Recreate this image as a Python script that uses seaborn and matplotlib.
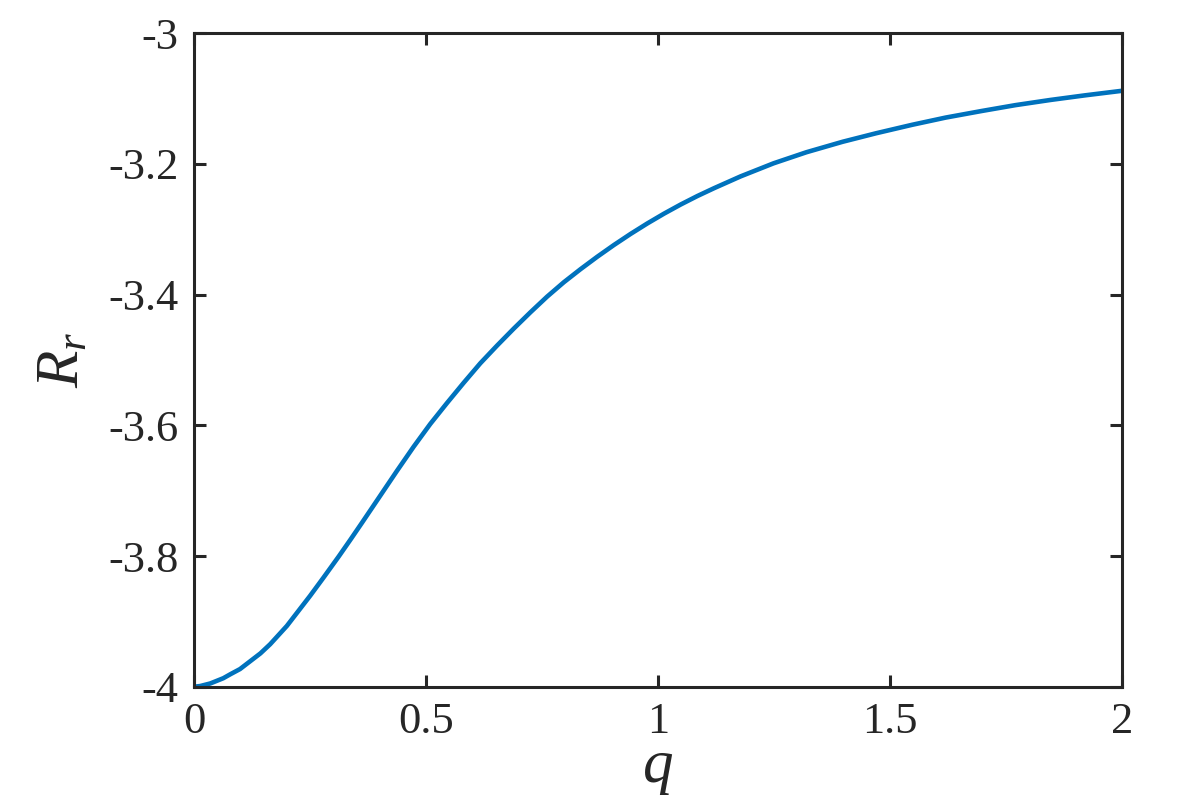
import matplotlib
matplotlib.use("Agg")
import matplotlib.pyplot as plt
import seaborn as sns
import pandas as pd

q_values = [0.0, 0.013, 0.035, 0.063, 0.078, 0.099, 0.121, 0.143, 0.164, 0.182,
            0.200, 0.225, 0.250, 0.279, 0.3115, 0.337, 0.362, 0.400, 0.437, 0.473,
            0.509, 0.545, 0.581, 0.617, 0.653, 0.689, 0.725, 0.761, 0.797, 0.833,
            0.869, 0.905, 0.941, 0.977, 1.013, 1.049, 1.085, 1.121, 1.178, 1.249,
            1.320, 1.398, 1.470, 1.548, 1.620, 1.697, 1.770, 1.846, 1.920, 2.000]
r_values = [-4.000, -3.999, -3.995, -3.987, -3.981, -3.973, -3.961, -3.949, -3.935, -3.921,
            -3.907, -3.884, -3.861, -3.833, -3.801, -3.775, -3.749, -3.709, -3.670, -3.633,
            -3.598, -3.566, -3.535, -3.505, -3.478, -3.452, -3.427, -3.403, -3.381, -3.361,
            -3.342, -3.324, -3.307, -3.291, -3.276, -3.262, -3.249, -3.237, -3.219, -3.199,
            -3.182, -3.166, -3.153, -3.140, -3.129, -3.119, -3.110, -3.102, -3.095, -3.088]
x_ticks = [0, 0.5, 1, 1.5, 2]
x_tick_labels = ["0", "0.5", "1", "1.5", "2"]
y_ticks = [-4, -3.8, -3.6, -3.4, -3.2, -3]
y_tick_labels = ["-4", "-3.8", "-3.6", "-3.4", "-3.2", "-3"]

sns.set_theme(style="white")
plt.rcParams["font.family"] = ["Liberation Serif", "DejaVu Serif"]
plt.rcParams["mathtext.fontset"] = "custom"
plt.rcParams["mathtext.it"] = "Liberation Serif:italic"
plt.rcParams["mathtext.rm"] = "Liberation Serif"

df = pd.DataFrame({"q": q_values, "R": r_values})

fig = plt.figure(figsize=(11.84, 8.10), dpi=100)
ax = fig.add_axes([0.1639, 0.1522, 0.7837, 0.8067])

sns.lineplot(data=df, x="q", y="R", ax=ax, color="#0072BD", linewidth=3.3)

ax.set_xlim(0, 2)
ax.set_ylim(-4, -3)
ax.set_xticks(x_ticks)
ax.set_xticklabels(x_tick_labels)
ax.set_yticks(y_ticks)
ax.set_yticklabels(y_tick_labels)

for s in ax.spines.values():
    s.set_visible(True)
    s.set_color("#262626")
    s.set_linewidth(2.2)

ax.tick_params(axis="both", which="both", direction="in", length=8.5, width=2.2,
               color="#262626", labelsize=32, labelcolor="#262626",
               top=True, right=True, bottom=True, left=True, pad=11)

ax.set_xlabel("$q$", fontsize=44, color="#262626", labelpad=0)
ax.set_ylabel("$R_r$", fontsize=44, color="#262626", labelpad=12)

fig.savefig("out.png", dpi=100, facecolor="white")
